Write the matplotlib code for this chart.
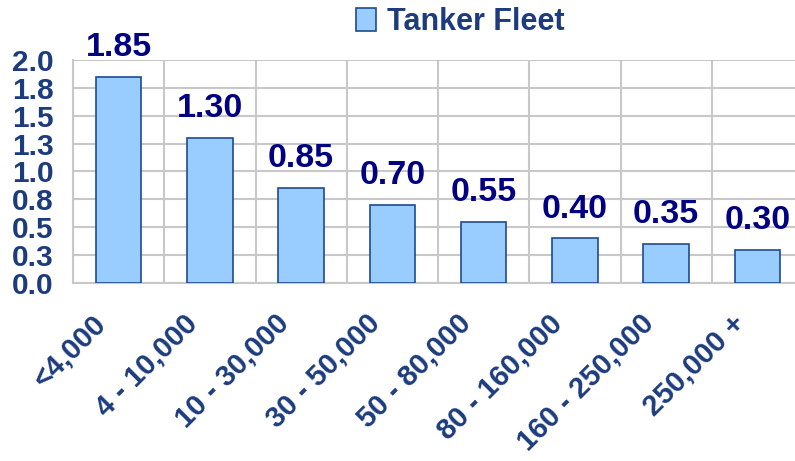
import numpy as np
import matplotlib
matplotlib.use("Agg")
import matplotlib.pyplot as plt
import matplotlib.transforms as mtransforms
from matplotlib.patches import Patch

categories = ["<4,000", "4 - 10,000", "10 - 30,000", "30 - 50,000",
              "50 - 80,000", "80 - 160,000", "160 - 250,000", "250,000 +"]
values = [1.85, 1.30, 0.85, 0.70, 0.55, 0.40, 0.35, 0.30]
y_ticks = [0.0, 0.25, 0.5, 0.75, 1.0, 1.25, 1.5, 1.75, 2.0]
y_tick_labels = ["0.0", "0.3", "0.5", "0.8", "1.0", "1.3", "1.5", "1.8", "2.0"]

plt.rcParams['font.family'] = ['Liberation Sans', 'DejaVu Sans']
plt.rcParams['font.weight'] = 'bold'

bar_color = "#99CCFF"
edge_color = "#1F4A8F"
label_color = "#000080"
tick_color = "#1C3C7E"
grid_color = "#C8C8C8"

fig = plt.figure(figsize=(7.95, 4.61), dpi=100)
# axes spans px 73..803 horizontally (clipped at right), 60..283 vertically
ax = fig.add_axes([73/795, (461-283)/461, 730/795, 223/461])

x = np.arange(len(categories))
bars = ax.bar(x, values, width=0.5, color=bar_color, edgecolor=edge_color,
              linewidth=1.2, zorder=3)

for xi, v in zip(x, values):
    ax.annotate(f"{v:.2f}", (xi, v), xytext=(0, 10), textcoords="offset points",
                ha="center", va="bottom", fontsize=24.5, fontweight="bold",
                color=label_color)

ax.set_xlim(-0.5, len(categories) - 0.5)
ax.set_ylim(0, 2.0)
ax.set_yticks(y_ticks)
ax.set_yticklabels(y_tick_labels, fontsize=21.5, fontweight="bold", color=tick_color)
ax.tick_params(axis="y", length=0, pad=14)

# vertical grid at category boundaries
ax.set_xticks(np.arange(len(categories) + 1) - 0.5, minor=True)
ax.grid(True, which="minor", axis="x", color=grid_color, linewidth=1.5, zorder=0)
ax.grid(True, which="major", axis="y", color=grid_color, linewidth=1.5, zorder=0)
ax.tick_params(axis="x", which="minor", length=0)

ax.set_xticks(x)
ax.set_xticklabels(categories, rotation=45, ha="right", va="center",
                   rotation_mode="anchor", fontsize=21, fontweight="bold",
                   color=tick_color)
ax.tick_params(axis="x", which="major", length=0, pad=26)
offset = mtransforms.ScaledTranslation(-0.17, 0, fig.dpi_scale_trans)
for lbl in ax.get_xticklabels():
    lbl.set_transform(lbl.get_transform() + offset)

for side in ["top", "right"]:
    ax.spines[side].set_visible(False)
for side in ["left", "bottom"]:
    ax.spines[side].set_color(grid_color)
    ax.spines[side].set_linewidth(1.5)

handle = Patch(facecolor=bar_color, edgecolor=edge_color, linewidth=1.2)
fig.legend([handle], ["Tanker Fleet"], loc="center", bbox_to_anchor=(0.579, 0.952),
           frameon=False, prop={"size": 22, "weight": "bold"},
           labelcolor=tick_color, handlelength=0.65, handleheight=0.75,
           handletextpad=0.35, borderpad=0)

fig.savefig("out.png", dpi=100)
